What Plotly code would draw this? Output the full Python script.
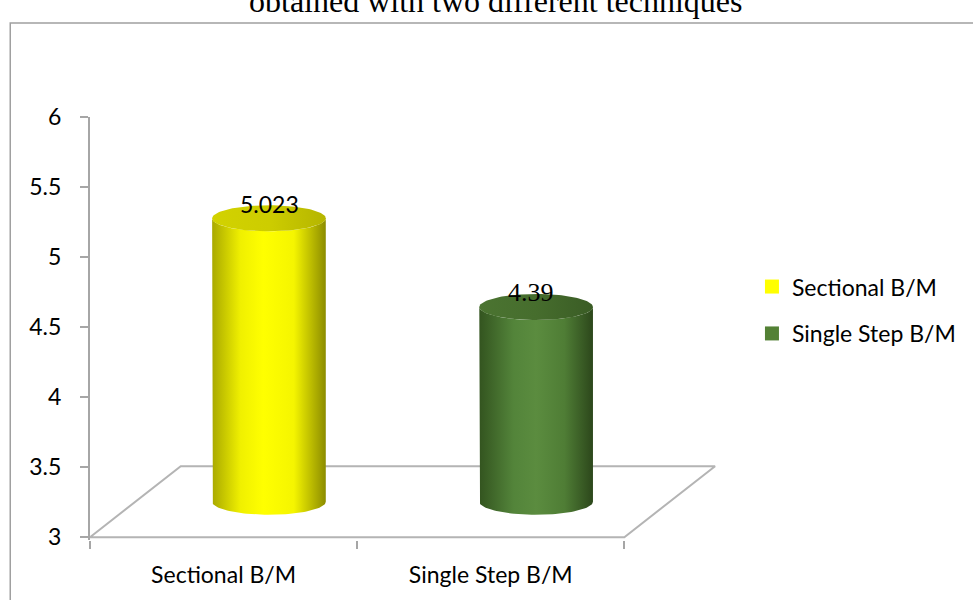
import numpy as np
import plotly.graph_objects as go

# ---- data ----
categories = ["Sectional B/M", "Single Step B/M"]
values = [5.023, 4.39]
value_labels = ["5.023", "4.39"]
title_text = "obtained with two different techniques"
y_ticks = [3, 3.5, 4, 4.5, 5, 5.5, 6]
y_tick_text = ["3", "3.5", "4", "4.5", "5", "5.5", "6"]

# ---- style ----
body_scales = [
    [[0, "#a9a900"], [0.25, "#f0f000"], [0.45, "#ffff00"], [0.72, "#f5f500"], [1, "#8c8c00"]],
    [[0, "#33541f"], [0.3, "#53843a"], [0.5, "#5b8c3f"], [0.75, "#4f7d35"], [1, "#2c471b"]],
]
top_scales = [
    [[0, "#d2d200"], [0.5, "#cdcd00"], [1, "#b5b500"]],
    [[0, "#4b7431"], [0.5, "#466d2d"], [1, "#3a5c25"]],
]
legend_colors = ["#ffff00", "#538135"]
label_fonts = [dict(family="Lato", size=23, color="black"),
               dict(family="Liberation Serif", size=26, color="black")]
label_xshift = [1, -5]
gray = "#a6a6a6"

# geometry (in axis units)
y_min = 3
depth_dx = 0.3396   # floor depth shift in x units
depth_dy = 0.507    # floor depth shift in y units
rx = 0.2127
ry = 0.093

fig = go.Figure()

# floor parallelogram
fx = [-0.5, len(categories) - 0.5, len(categories) - 0.5 + depth_dx, -0.5 + depth_dx, -0.5]
fy = [y_min, y_min, y_min + depth_dy, y_min + depth_dy, y_min]
fig.add_trace(go.Scatter(x=fx, y=fy, mode="lines", line=dict(color="#b4b4b4", width=2),
                         showlegend=False, hoverinfo="skip"))

for i, (cat, v) in enumerate(zip(categories, values)):
    cx = i + depth_dx / 2
    ybot = y_min + depth_dy / 2
    ytop = v + depth_dy / 2
    t_low = np.linspace(np.pi, 2 * np.pi, 60)
    bx = [cx - rx] + list(cx + rx * np.cos(t_low)) + [cx + rx]
    by = [ybot] + list(ybot + ry * np.sin(t_low)) + [ybot]
    t_back = np.linspace(2 * np.pi, np.pi, 60)
    body_x = [cx - rx] + bx + list(cx + rx * np.cos(t_back))
    body_y = [ytop] + by + list(ytop + ry * np.sin(t_back))
    fig.add_trace(go.Scatter(x=body_x, y=body_y, mode="lines", fill="toself",
                             line=dict(width=0, color="rgba(0,0,0,0)"),
                             fillgradient=dict(type="horizontal", colorscale=body_scales[i]),
                             showlegend=False, hoverinfo="skip"))
    t = np.linspace(0, 2 * np.pi, 120)
    fig.add_trace(go.Scatter(x=cx + rx * np.cos(t), y=ytop + ry * np.sin(t), mode="lines",
                             fill="toself", line=dict(width=0, color="rgba(0,0,0,0)"),
                             fillgradient=dict(type="horizontal", colorscale=top_scales[i]),
                             showlegend=False, hoverinfo="skip"))
    fig.add_annotation(x=cx, y=ytop + ry, xref="x", yref="y", text=value_labels[i],
                       showarrow=False, yanchor="middle", font=label_fonts[i], yshift=1,
                       xshift=label_xshift[i])

# legend entries (markers on a hidden axis)
for i, (cat, v) in enumerate(zip(categories, values)):
    fig.add_trace(go.Scatter(x=[cat], y=[v], name=cat, mode="markers",
                             marker=dict(color=legend_colors[i], symbol="square", size=14,
                                         line=dict(width=0)),
                             xaxis="x2", yaxis="y2", legendgroup=str(i), hoverinfo="skip"))

W, H = 973, 600
ml, mr, mt = 90, 233, 117
y_lo = 2.98
px_per_unit = 140
plot_h = (6 - y_lo) * px_per_unit
mb = H - mt - plot_h
plot_w = W - ml - mr
x_hi = -0.5 + plot_w / 268.0

def py(pix):
    return (mt + plot_h - pix) / plot_h

def pxp(pix):
    return (pix - ml) / plot_w

fig.update_layout(
    width=W, height=H,
    margin=dict(l=ml, r=mr, t=mt, b=mb, pad=0),
    paper_bgcolor="white", plot_bgcolor="rgba(0,0,0,0)",
    font=dict(family="Lato", size=23, color="black"),
    xaxis=dict(range=[-0.5, x_hi], tickvals=list(range(len(categories))), ticktext=categories,
               ticks="", showgrid=False, zeroline=False, showline=False,
               tickfont=dict(family="Lato", size=23, color="black"), ticklabelstandoff=19,
               minor=dict(tickvals=[k - 0.5 for k in range(len(categories) + 1)], ticks="outside",
                          ticklen=8, tickwidth=1.5, tickcolor=gray, showgrid=False),
               fixedrange=True),
    yaxis=dict(range=[y_lo, 6], tickvals=y_ticks, ticktext=y_tick_text, ticks="outside",
               ticklen=8, tickwidth=1.5, tickcolor=gray, showline=True, linecolor=gray, linewidth=2,
               showgrid=False, zeroline=False, tickfont=dict(family="Lato", size=23, color="black"),
               ticklabelstandoff=14, fixedrange=True),
    xaxis2=dict(visible=False, overlaying="x", anchor="y2", type="category"),
    yaxis2=dict(visible=False, overlaying="y", anchor="x2", range=[100, 101]),
    legend=dict(x=pxp(754), xanchor="left", y=py(310), yanchor="middle",
                font=dict(family="Lato", size=23, color="black"), tracegroupgap=14,
                bgcolor="rgba(0,0,0,0)"),
    showlegend=True,
)

# chart border
fig.add_shape(type="rect", xref="paper", yref="paper", x0=pxp(10), x1=pxp(1200),
              y0=py(800), y1=py(23), line=dict(color="#a0a0a0", width=1.5), layer="below")

# title (partially cut at top)
fig.add_annotation(xref="paper", yref="paper", x=pxp(497), y=py(21), xanchor="center",
                   yanchor="bottom", text=title_text, showarrow=False,
                   font=dict(family="Liberation Serif", size=32, color="black"))

fig.write_html("out.html")
